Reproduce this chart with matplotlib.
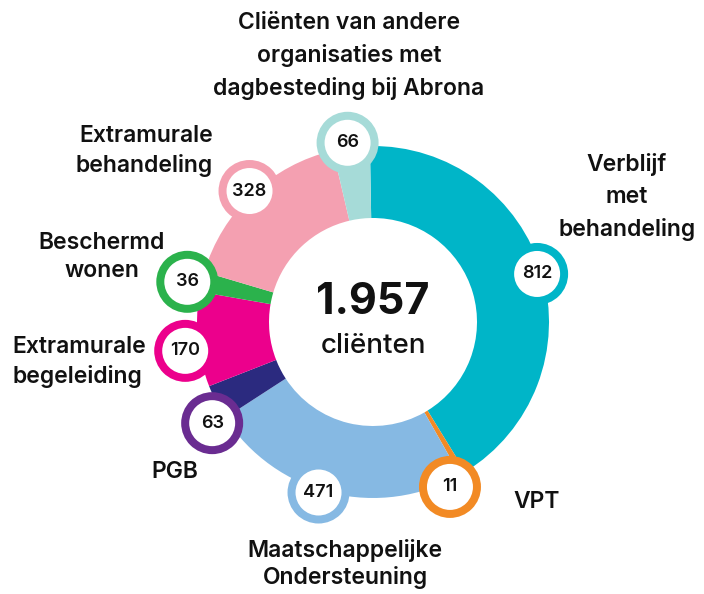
import matplotlib.pyplot as plt
from matplotlib.patches import Circle
import numpy as np

plt.rcParams['font.family'] = ['Inter', 'DejaVu Sans']

# data (clockwise from 12 o'clock)
categories = ['Verblijf\nmet\nbehandeling', 'VPT', 'Maatschappelijke\nOndersteuning', 'PGB',
              'Extramurale\nbegeleiding', 'Beschermd\nwonen', 'Extramurale\nbehandeling',
              'Cliënten van andere\norganisaties met\ndagbesteding bij Abrona']
values = [812, 11, 471, 63, 170, 36, 328, 66]
total_label = '1.957'
total_sub = 'cliënten'

wedge_colors = ['#00b5c8', '#f28a24', '#86b9e3', '#2b2a7f', '#ec008c', '#2bb24c', '#f4a0b1', '#a6dbd8']
badge_colors = ['#00b5c8', '#f28a24', '#86b9e3', '#6a2c91', '#ec008c', '#2bb24c', '#f4a0b1', '#a6dbd8']

# layout in pixels of the 704x594 picture (y from top)
W, H = 704, 594
cx, cy = 373, 322
r_out, r_in = 176, 104
badge_dist = [171, 182, 179, 190, 190, 190, 180, 181]
badge_nudge = [0, -5.6, -4, 5, 3, 1, 0, 1]
label_pos = [(627, 197, 'center'), (537, 502, 'center'), (345, 564, 'center'),
             (175, 472, 'center'), (12, 362, 'left'), (102, 257, 'center'),
             (213, 151, 'right'), (349, 56, 'center')]
label_spacing = [1.56, 1.45, 1.25, 1.45, 1.38, 1.38, 1.42, 1.56]

fig = plt.figure(figsize=(W / 100, H / 100), dpi=100)
ax = fig.add_axes([0, 0, 1, 1])

center = (cx, H - cy)
wedges, _ = ax.pie(values, colors=wedge_colors, startangle=91, counterclock=False,
                   center=center, radius=r_out,
                   wedgeprops=dict(width=r_out - r_in, linewidth=0))

for i, w in enumerate(wedges):
    ang = np.deg2rad((w.theta1 + w.theta2) / 2 + badge_nudge[i])
    bx = center[0] + badge_dist[i] * np.cos(ang)
    by = center[1] + badge_dist[i] * np.sin(ang)
    ax.add_patch(Circle((bx, by), 31, facecolor=badge_colors[i], linewidth=0, zorder=3 + i))
    ax.add_patch(Circle((bx, by), 23, facecolor='white', linewidth=0, zorder=3 + i))
    ax.text(bx, by, str(values[i]), ha='center', va='center', fontsize=13,
            fontweight='semibold', color='#111111', zorder=20)

for i, (lx, ly, al) in enumerate(label_pos):
    ax.text(lx, H - ly, categories[i], ha=al, va='center', multialignment=al,
            fontsize=16.5, fontweight='semibold', color='#111111',
            linespacing=label_spacing[i])

ax.text(center[0], H - 303, total_label, ha='center', va='center', fontsize=31,
        fontweight='bold', color='#111111')
ax.text(center[0], H - 346, total_sub, ha='center', va='center', fontsize=20,
        fontweight='medium', color='#111111')

ax.set_xlim(0, W)
ax.set_ylim(0, H)
ax.set_aspect('equal')
ax.axis('off')

fig.savefig('out.png', dpi=100, facecolor='white')
